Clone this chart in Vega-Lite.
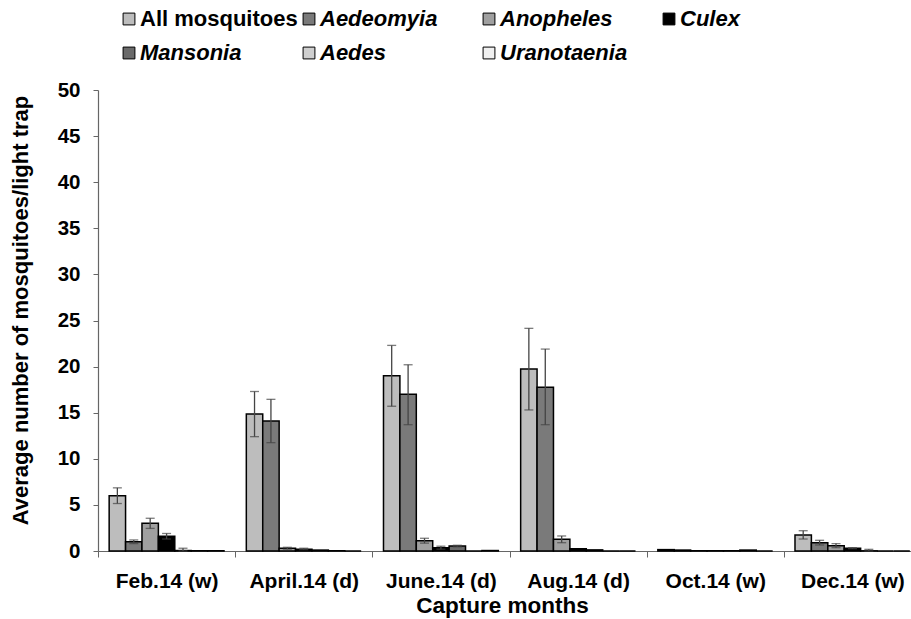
{
  "$schema": "https://vega.github.io/schema/vega-lite/v6.json",
  "width": 823,
  "height": 461,
  "autosize": "none",
  "padding": {"left": 98, "top": 90, "right": -10, "bottom": 68},
  "background": "white",
  "config": {
    "view": {"stroke": null},
    "font": "Liberation Sans",
    "axis": {"labelFont": "Liberation Sans", "titleFont": "Liberation Sans", "labelFontWeight": "bold", "titleFontWeight": "bold", "labelColor": "black", "titleColor": "black", "domainColor": "#666", "tickColor": "#666", "grid": false}
  },
  "data": {
    "values": [
      {"month": "Feb.14 (w)", "series": "All mosquitoes", "value": 6.0, "lo": 5.15, "hi": 6.85},
      {"month": "Feb.14 (w)", "series": "Aedeomyia", "value": 1.0, "lo": 0.8, "hi": 1.2},
      {"month": "Feb.14 (w)", "series": "Anopheles", "value": 3.0, "lo": 2.45, "hi": 3.55},
      {"month": "Feb.14 (w)", "series": "Culex", "value": 1.6, "lo": 1.3, "hi": 1.9},
      {"month": "Feb.14 (w)", "series": "Mansonia", "value": 0.05, "lo": 0.0, "hi": 0.3},
      {"month": "Feb.14 (w)", "series": "Aedes", "value": 0.03},
      {"month": "Feb.14 (w)", "series": "Uranotaenia", "value": 0.03},
      {"month": "April.14 (d)", "series": "All mosquitoes", "value": 14.85, "lo": 12.4, "hi": 17.3},
      {"month": "April.14 (d)", "series": "Aedeomyia", "value": 14.1, "lo": 11.75, "hi": 16.45},
      {"month": "April.14 (d)", "series": "Anopheles", "value": 0.3, "lo": 0.2, "hi": 0.4},
      {"month": "April.14 (d)", "series": "Culex", "value": 0.2, "lo": 0.15, "hi": 0.3},
      {"month": "April.14 (d)", "series": "Mansonia", "value": 0.1},
      {"month": "April.14 (d)", "series": "Aedes", "value": 0.03},
      {"month": "April.14 (d)", "series": "Uranotaenia", "value": 0.0},
      {"month": "June.14 (d)", "series": "All mosquitoes", "value": 19.0, "lo": 15.7, "hi": 22.3},
      {"month": "June.14 (d)", "series": "Aedeomyia", "value": 17.0, "lo": 13.7, "hi": 20.2},
      {"month": "June.14 (d)", "series": "Anopheles", "value": 1.12, "lo": 0.85, "hi": 1.38},
      {"month": "June.14 (d)", "series": "Culex", "value": 0.35, "lo": 0.2, "hi": 0.52},
      {"month": "June.14 (d)", "series": "Mansonia", "value": 0.55, "lo": 0.45, "hi": 0.62},
      {"month": "June.14 (d)", "series": "Aedes", "value": 0.0},
      {"month": "June.14 (d)", "series": "Uranotaenia", "value": 0.05},
      {"month": "Aug.14 (d)", "series": "All mosquitoes", "value": 19.75, "lo": 15.3, "hi": 24.15},
      {"month": "Aug.14 (d)", "series": "Aedeomyia", "value": 17.75, "lo": 13.7, "hi": 21.9},
      {"month": "Aug.14 (d)", "series": "Anopheles", "value": 1.27, "lo": 0.9, "hi": 1.63},
      {"month": "Aug.14 (d)", "series": "Culex", "value": 0.25},
      {"month": "Aug.14 (d)", "series": "Mansonia", "value": 0.12},
      {"month": "Aug.14 (d)", "series": "Aedes", "value": 0.0},
      {"month": "Aug.14 (d)", "series": "Uranotaenia", "value": 0.0},
      {"month": "Oct.14 (w)", "series": "All mosquitoes", "value": 0.15},
      {"month": "Oct.14 (w)", "series": "Aedeomyia", "value": 0.1},
      {"month": "Oct.14 (w)", "series": "Anopheles", "value": 0.03},
      {"month": "Oct.14 (w)", "series": "Culex", "value": 0.03},
      {"month": "Oct.14 (w)", "series": "Mansonia", "value": 0.03},
      {"month": "Oct.14 (w)", "series": "Aedes", "value": 0.1},
      {"month": "Oct.14 (w)", "series": "Uranotaenia", "value": 0.0},
      {"month": "Dec.14 (w)", "series": "All mosquitoes", "value": 1.74, "lo": 1.3, "hi": 2.2},
      {"month": "Dec.14 (w)", "series": "Aedeomyia", "value": 0.9, "lo": 0.65, "hi": 1.16},
      {"month": "Dec.14 (w)", "series": "Anopheles", "value": 0.58, "lo": 0.36, "hi": 0.8},
      {"month": "Dec.14 (w)", "series": "Culex", "value": 0.3, "lo": 0.25, "hi": 0.36},
      {"month": "Dec.14 (w)", "series": "Mansonia", "value": 0.02, "lo": 0.0, "hi": 0.18},
      {"month": "Dec.14 (w)", "series": "Aedes", "value": 0.0},
      {"month": "Dec.14 (w)", "series": "Uranotaenia", "value": 0.0}
    ]
  },
  "encoding": {
    "x": {
      "field": "month", "type": "nominal",
      "sort": ["Feb.14 (w)", "April.14 (d)", "June.14 (d)", "Aug.14 (d)", "Oct.14 (w)", "Dec.14 (w)"],
      "scale": {"paddingInner": 0, "paddingOuter": 0},
      "axis": {"title": "Capture months", "labelAngle": 0, "labelFontSize": 21, "titleFontSize": 22.5, "tickBand": "extent", "tickSize": 6, "labelPadding": 13, "titlePadding": 3, "titleX": 404, "domainWidth": 1.2}
    },
    "xOffset": {
      "field": "series", "type": "nominal",
      "sort": ["All mosquitoes", "Aedeomyia", "Anopheles", "Culex", "Mansonia", "Aedes", "Uranotaenia"],
      "scale": {"paddingInner": 0, "paddingOuter": 0.68}
    }
  },
  "layer": [
    {
      "mark": {"type": "bar", "stroke": "black", "strokeWidth": 1.5},
      "encoding": {
        "y": {
          "field": "value", "type": "quantitative",
          "scale": {"domain": [0, 50]},
          "axis": {"title": "Average number of mosquitoes/light trap", "values": [0, 5, 10, 15, 20, 25, 30, 35, 40, 45, 50], "labelFontSize": 20.5, "titleFontSize": 22, "tickSize": 5, "labelPadding": 13, "titlePadding": 25, "titleY": 220, "domainWidth": 1.2}
        },
        "fill": {
          "field": "series", "type": "nominal",
          "sort": ["All mosquitoes", "Aedeomyia", "Anopheles", "Culex", "Mansonia", "Aedes", "Uranotaenia"],
          "scale": {"range": ["#bdbdbd", "#7a7a7a", "#a0a0a0", "#000000", "#6a6a6a", "#cfcfcf", "#f0f0f0"]},
          "legend": {
            "title": null, "orient": "none", "direction": "horizontal", "legendX": 20, "legendY": -82, "columns": 4, "gridAlign": "all",
            "columnPadding": 0, "rowPadding": 12, "symbolType": "square", "symbolSize": 140, "symbolStrokeColor": "black", "symbolStrokeWidth": 1,
            "labelFontSize": 22, "labelFontWeight": "bold", "labelFont": "Liberation Sans", "labelColor": "black", "labelOffset": 0, "labelLimit": 300,
            "encode": {"labels": {"update": {"fontStyle": {"signal": "datum.label === 'All mosquitoes' ? 'normal' : 'italic'"}}}}
          }
        }
      }
    },
    {
      "transform": [{"filter": "datum.hi != null"}],
      "mark": {"type": "rule", "color": "#444", "strokeWidth": 1.3},
      "encoding": {"y": {"field": "lo", "type": "quantitative"}, "y2": {"field": "hi"}}
    },
    {
      "transform": [{"filter": "datum.hi != null"}],
      "mark": {"type": "tick", "color": "#444", "thickness": 1.3, "size": 9},
      "encoding": {"y": {"field": "hi", "type": "quantitative"}}
    },
    {
      "transform": [{"filter": "datum.hi != null"}],
      "mark": {"type": "tick", "color": "#444", "thickness": 1.3, "size": 9},
      "encoding": {"y": {"field": "lo", "type": "quantitative"}}
    }
  ]
}
